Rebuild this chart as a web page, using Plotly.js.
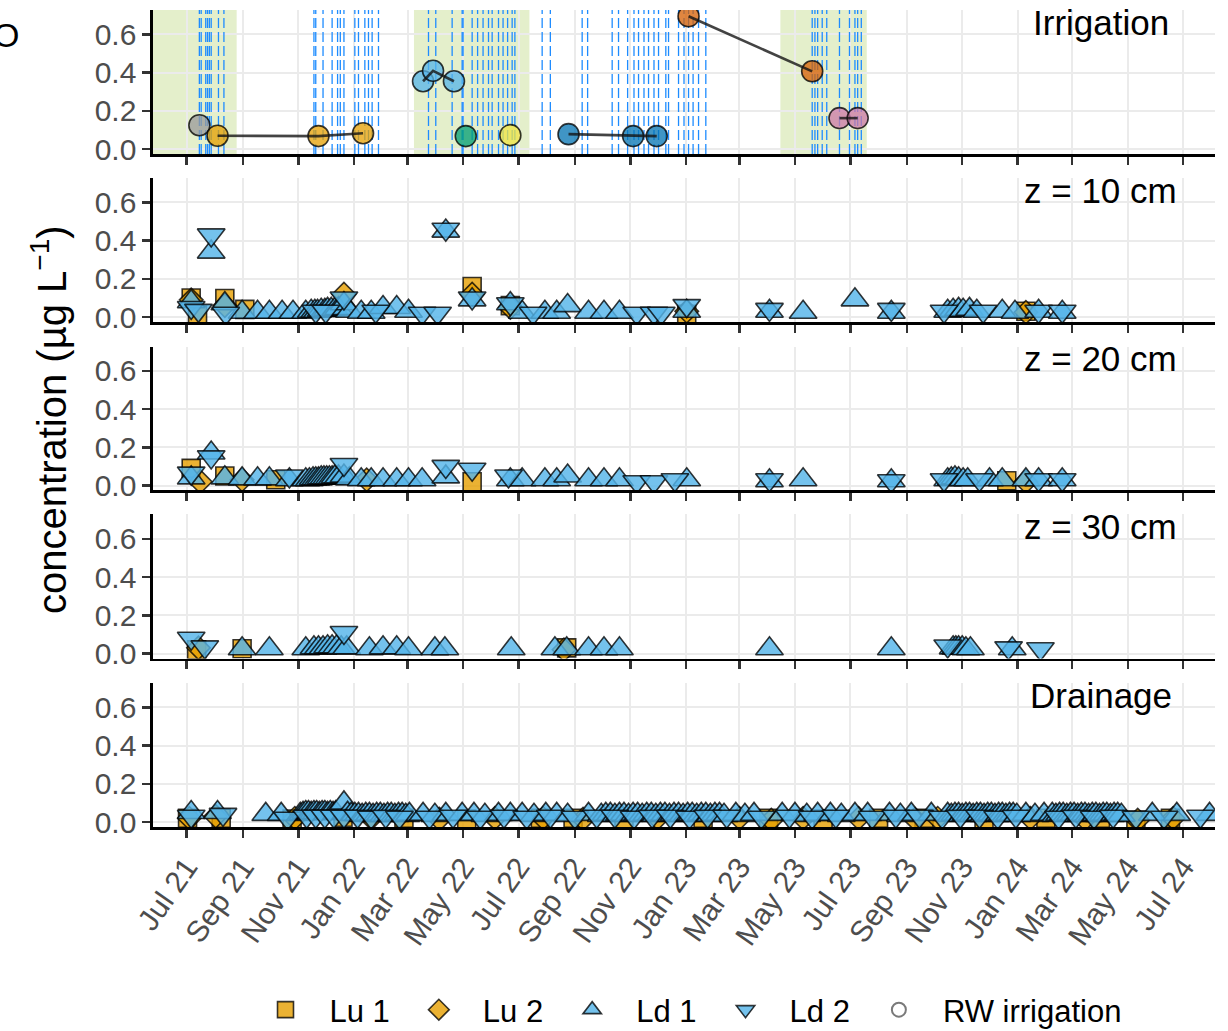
<!DOCTYPE html>
<html><head><meta charset="utf-8">
<script src="https://cdn.plot.ly/plotly-3.0.1.min.js"></script>
<style>html,body{margin:0;padding:0;background:#fff}#chart{width:1228px;height:1031px}</style>
</head><body><div id="chart"></div>
<script>
// ---------------- DATA ----------------
const panel_labels = ["Irrigation", "z = 10 cm", "z = 20 cm", "z = 30 cm", "Drainage"];
const y_ticks = [0, 0.2, 0.4, 0.6];
const y_ticktext = ["0.0", "0.2", "0.4", "0.6"];
const series_names = ["Lu 1", "Lu 2", "Ld 1", "Ld 2"];

// irrigation seasons (shaded) and irrigation events (dashed lines)
const season_start = ["2021-05-25", "2022-03-08", "2023-04-15"];
const season_end   = ["2021-08-25", "2022-07-13", "2023-07-19"];
const irr_events = ["2021-07-15","2021-07-17","2021-07-22","2021-07-24","2021-07-26","2021-07-28","2021-08-05","2021-08-11",
  "2021-11-18","2021-11-20","2021-11-28","2021-12-08","2021-12-14","2021-12-17","2021-12-21","2022-01-02","2022-01-06","2022-01-13","2022-01-17","2022-01-21","2022-01-28",
  "2022-03-24","2022-04-01","2022-04-19","2022-04-30","2022-05-01","2022-05-11","2022-05-17","2022-05-23","2022-05-29","2022-06-02","2022-06-09","2022-06-14","2022-06-19","2022-06-24","2022-06-27",
  "2022-07-27","2022-08-05","2022-09-09","2022-09-15",
  "2022-10-12","2022-10-19","2022-10-29","2022-11-05","2022-11-10","2022-11-16","2022-11-21","2022-11-27","2022-12-02","2022-12-10","2022-12-13","2022-12-24","2022-12-30","2023-01-04","2023-01-09","2023-01-15","2023-01-23",
  "2023-05-20","2023-05-23","2023-05-26","2023-05-31","2023-06-05","2023-06-19","2023-06-30","2023-07-06","2023-07-09","2023-07-13"];

// RW irrigation concentrations
const irr_grey_dates = ["2021-07-15"];                              const irr_grey_vals = [0.125];
const irr_gold_dates = ["2021-08-04","2021-11-23","2022-01-11"];    const irr_gold_vals = [0.07, 0.068, 0.083];
const irr_ltblue_dates = ["2022-03-18","2022-03-29","2022-04-21"];  const irr_ltblue_vals = [0.355, 0.41, 0.355];
const irr_green_dates = ["2022-05-04"];                             const irr_green_vals = [0.068];
const irr_yellow_dates = ["2022-06-22"];                            const irr_yellow_vals = [0.073];
const irr_dkblue_dates = ["2022-08-25","2022-11-04","2022-11-30"];  const irr_dkblue_vals = [0.078, 0.068, 0.068];
const irr_orange_dates = ["2023-01-04","2023-05-20"];               const irr_orange_vals = [0.695, 0.407];
const irr_pink_dates = ["2023-06-19","2023-07-09"];                 const irr_pink_vals = [0.162, 0.162];

// z = 10 cm
const z10_lu1_dates = ["2021-07-06","2021-07-13","2021-08-12","2021-09-03","2022-05-11","2022-06-22","2023-01-02","2024-01-10"];
const z10_lu1_vals  = [0.10,0.01,0.097,0.04,0.16,0.06,0.015,0.03];
const z10_lu2_dates = ["2021-07-06","2021-08-12","2021-12-21","2022-05-11","2022-06-22","2023-01-02","2024-01-10"];
const z10_lu2_vals  = [0.09,0.06,0.12,0.12,0.05,0.03,0.025];
const z10_ld1_dates = ["2021-07-06","2021-07-28","2021-08-12","2021-08-31","2021-09-17","2021-09-30","2021-10-14","2021-10-26","2021-11-09","2021-11-15","2021-11-19","2021-11-22","2021-11-26","2021-11-30","2021-12-03","2021-12-07","2021-12-11","2021-12-15","2021-12-21","2021-12-27","2022-01-09","2022-01-20","2022-02-02","2022-02-17","2022-03-02","2022-04-12","2022-05-11","2022-06-22","2022-07-05","2022-07-30","2022-08-12","2022-08-24","2022-09-16","2022-10-03","2022-10-20","2023-01-02","2023-04-03","2023-05-10","2023-07-06","2023-08-15","2023-10-16","2023-10-22","2023-10-28","2023-11-02","2023-11-09","2023-11-17","2023-12-15","2023-12-29","2024-01-24","2024-02-19"];
const z10_ld1_vals  = [0.08,0.34,0.07,0.025,0.025,0.025,0.025,0.025,0.025,0.03,0.03,0.03,0.035,0.035,0.04,0.04,0.04,0.045,0.07,0.03,0.025,0.025,0.05,0.05,0.03,0.45,0.09,0.07,0.025,0.025,0.025,0.06,0.025,0.025,0.025,0.03,0.03,0.025,0.09,0.025,0.03,0.035,0.04,0.035,0.04,0.03,0.03,0.025,0.03,0.025];
const z10_ld2_dates = ["2021-07-06","2021-07-14","2021-07-28","2021-08-13","2021-11-20","2021-12-01","2021-12-21","2022-01-25","2022-03-17","2022-04-03","2022-04-12","2022-05-11","2022-06-22","2022-07-17","2022-11-08","2022-11-27","2022-12-05","2023-01-02","2023-04-03","2023-08-15","2023-10-12","2023-11-24","2024-01-24","2024-02-19"];
const z10_ld2_vals  = [0.05,0.035,0.43,0.02,0.03,0.03,0.10,0.03,0.02,0.02,0.46,0.10,0.07,0.02,0.02,0.02,0.02,0.06,0.04,0.04,0.03,0.03,0.03,0.03];

// z = 20 cm
const z20_lu1_dates = ["2021-07-06","2021-08-12","2021-10-07","2022-05-11","2023-12-20"];
const z20_lu1_vals  = [0.09,0.05,0.03,0.02,0.025];
const z20_lu2_dates = ["2021-07-16","2021-08-31","2022-01-15","2024-01-10"];
const z20_lu2_vals  = [0.02,0.03,0.03,0.02];
const z20_ld1_dates = ["2021-07-06","2021-07-28","2021-08-12","2021-08-31","2021-09-17","2021-09-30","2021-10-22","2021-11-09","2021-11-13","2021-11-17","2021-11-20","2021-11-23","2021-11-26","2021-11-29","2021-12-02","2021-12-05","2021-12-08","2021-12-11","2021-12-15","2021-12-21","2021-12-27","2022-01-09","2022-01-20","2022-02-02","2022-02-17","2022-03-02","2022-03-17","2022-04-12","2022-06-22","2022-07-05","2022-07-30","2022-08-12","2022-08-24","2022-09-16","2022-10-03","2022-10-20","2023-01-02","2023-04-03","2023-05-10","2023-08-15","2023-10-16","2023-10-20","2023-10-24","2023-10-28","2023-11-02","2023-11-07","2023-12-01","2023-12-15","2024-01-10","2024-01-24","2024-02-19"];
const z20_ld1_vals  = [0.04,0.17,0.04,0.035,0.035,0.035,0.03,0.03,0.03,0.035,0.035,0.035,0.04,0.04,0.04,0.04,0.04,0.045,0.045,0.05,0.035,0.03,0.03,0.03,0.03,0.03,0.03,0.045,0.03,0.03,0.03,0.03,0.05,0.03,0.03,0.03,0.03,0.025,0.03,0.025,0.03,0.035,0.04,0.035,0.03,0.03,0.03,0.03,0.03,0.03,0.03];
const z20_ld2_dates = ["2021-07-06","2021-07-28","2021-10-22","2021-12-21","2022-04-12","2022-05-11","2022-06-20","2022-11-08","2022-11-27","2022-12-20","2023-04-03","2023-08-15","2023-10-12","2023-11-20","2024-01-24","2024-02-19"];
const z20_ld2_vals  = [0.065,0.15,0.05,0.11,0.10,0.085,0.05,0.02,0.02,0.03,0.03,0.025,0.03,0.03,0.03,0.03];

// z = 30 cm
const z30_lu1_dates = ["2021-07-12","2021-08-31","2022-08-23"];
const z30_lu1_vals  = [0.02,0.025,0.03];
const z30_lu2_dates = ["2021-07-14","2022-08-20"];
const z30_lu2_vals  = [0.03,0.02];
const z30_ld1_dates = ["2021-08-31","2021-09-30","2021-11-09","2021-11-18","2021-11-23","2021-11-28","2021-12-03","2021-12-08","2021-12-13","2021-12-18","2021-12-24","2022-01-18","2022-02-02","2022-02-17","2022-03-02","2022-03-31","2022-04-11","2022-06-23","2022-08-10","2022-08-23","2022-09-16","2022-10-03","2022-10-20","2023-04-03","2023-08-15","2023-10-22","2023-10-25","2023-10-28","2023-11-01","2023-11-05","2023-11-10","2023-12-26"];
const z30_ld1_vals  = [0.025,0.025,0.025,0.03,0.03,0.03,0.035,0.035,0.035,0.03,0.03,0.025,0.03,0.03,0.025,0.025,0.025,0.025,0.025,0.025,0.025,0.025,0.025,0.025,0.025,0.03,0.03,0.03,0.03,0.025,0.025,0.025];
const z30_ld2_dates = ["2021-07-06","2021-07-21","2021-12-21","2023-10-16","2023-12-22","2024-01-26"];
const z30_ld2_vals  = [0.08,0.035,0.11,0.04,0.03,0.025];

// Drainage
const dr_lu1_dates = ["2021-07-02","2021-08-08","2021-10-25","2021-12-20","2022-02-25","2022-05-05","2022-07-25","2022-08-30","2022-10-25","2023-01-20","2023-04-02","2023-06-01","2023-08-01","2023-09-20","2023-11-25","2024-02-01","2024-04-01","2024-05-10","2024-06-17"];
const dr_lu1_vals  = [0.02,0.02,0.015,0.025,0.02,0.015,0.02,0.02,0.015,0.02,0.02,0.015,0.02,0.02,0.015,0.02,0.02,0.01,0.02];
const dr_lu2_dates = ["2021-07-04","2021-08-02","2021-10-28","2022-01-20","2022-04-05","2022-06-05","2022-07-28","2022-09-10","2022-12-01","2023-03-01","2023-04-05","2023-05-10","2023-07-10","2023-09-10","2023-10-05","2024-01-15","2024-03-15","2024-05-12","2024-06-20"];
const dr_lu2_vals  = [0.02,0.03,0.02,0.02,0.015,0.02,0.02,0.015,0.02,0.02,0.01,0.02,0.02,0.015,0.02,0.02,0.015,0.01,0.02];
const dr_ld1_dates = ["2021-07-06","2021-08-04","2021-09-26","2021-10-13",
  "2021-11-03","2021-11-06","2021-11-09","2021-11-12","2021-11-15","2021-11-18","2021-11-21","2021-11-24","2021-11-27","2021-11-30","2021-12-03","2021-12-06","2021-12-09","2021-12-12",
  "2021-12-21",
  "2021-12-25","2021-12-29","2022-01-02","2022-01-06","2022-01-10","2022-01-14","2022-01-18","2022-01-22","2022-01-26","2022-01-30","2022-02-03","2022-02-07","2022-02-11","2022-02-15","2022-02-19","2022-02-23","2022-02-27","2022-03-03",
  "2022-03-18","2022-03-31","2022-04-12","2022-04-30","2022-05-13","2022-05-25","2022-06-09","2022-06-22","2022-07-05","2022-07-18","2022-07-31","2022-08-12","2022-08-24","2022-09-16",
  "2022-09-30","2022-10-05","2022-10-10","2022-10-15","2022-10-20","2022-10-25","2022-10-30","2022-11-04","2022-11-09","2022-11-14","2022-11-19","2022-11-24","2022-11-29","2022-12-04","2022-12-09","2022-12-14","2022-12-19","2022-12-24","2022-12-29","2023-01-03","2023-01-08","2023-01-13","2023-01-18","2023-01-23","2023-01-28","2023-02-02","2023-02-07","2023-02-12",
  "2023-02-25","2023-03-07","2023-03-17","2023-04-17","2023-05-01","2023-05-14","2023-05-26","2023-06-09","2023-06-21","2023-07-06","2023-07-20","2023-08-13","2023-08-25","2023-09-06","2023-09-28",
  "2023-10-16","2023-10-20","2023-10-24","2023-10-28","2023-11-01","2023-11-05","2023-11-09","2023-11-13","2023-11-17","2023-11-21","2023-11-25","2023-11-29","2023-12-03","2023-12-07","2023-12-11","2023-12-15","2023-12-19","2023-12-23","2023-12-27","2023-12-31",
  "2024-01-10","2024-01-20","2024-01-30",
  "2024-02-08","2024-02-12","2024-02-16","2024-02-20","2024-02-24","2024-02-28","2024-03-03","2024-03-07","2024-03-11","2024-03-15","2024-03-19","2024-03-23","2024-03-27","2024-03-31","2024-04-04","2024-04-08","2024-04-12","2024-04-16","2024-04-20","2024-04-24",
  "2024-05-28","2024-06-24","2024-07-30"];
const dr_ld1_vals = [0.05,0.05,0.04,0.04,
  0.04,0.045,0.05,0.05,0.045,0.05,0.05,0.045,0.05,0.05,0.045,0.05,0.045,0.05,
  0.10,
  0.045,0.04,0.04,0.04,0.035,0.04,0.04,0.035,0.04,0.04,0.035,0.04,0.04,0.035,0.04,0.04,0.035,0.04,
  0.04,0.035,0.04,0.04,0.04,0.035,0.04,0.04,0.04,0.035,0.04,0.04,0.035,0.04,
  0.035,0.04,0.04,0.035,0.04,0.04,0.035,0.04,0.04,0.035,0.04,0.04,0.035,0.04,0.04,0.035,0.04,0.04,0.035,0.04,0.04,0.035,0.04,0.04,0.035,0.04,0.04,0.035,
  0.04,0.035,0.04,0.04,0.04,0.035,0.04,0.04,0.035,0.04,0.04,0.04,0.035,0.04,0.04,
  0.04,0.035,0.04,0.04,0.035,0.04,0.04,0.035,0.04,0.04,0.035,0.04,0.04,0.035,0.04,0.04,0.035,0.04,0.04,0.035,
  0.04,0.035,0.04,
  0.04,0.035,0.04,0.04,0.035,0.04,0.04,0.035,0.04,0.04,0.035,0.04,0.04,0.035,0.04,0.04,0.035,0.04,0.04,0.035,
  0.04,0.04,0.04];
const dr_ld2_dates = ["2021-07-06","2021-08-10","2021-10-20","2021-11-10","2021-11-20","2021-11-30","2021-12-10","2021-12-21","2022-01-05","2022-01-20","2022-02-05","2022-02-20","2022-03-25","2022-04-20","2022-05-20","2022-06-15","2022-07-10","2022-08-05","2022-09-01","2022-09-25","2022-10-15","2022-11-05","2022-11-25","2022-12-15","2023-01-05","2023-01-25","2023-02-15","2023-03-25","2023-04-25","2023-05-20","2023-06-15","2023-07-25","2023-08-20","2023-09-15","2023-10-10","2023-10-30","2023-11-20","2023-12-10","2023-12-30","2024-02-15","2024-03-05","2024-03-25","2024-04-15","2024-05-10","2024-06-10","2024-07-20"];
const dr_ld2_vals  = [0.03,0.04,0.02,0.03,0.03,0.03,0.03,0.03,0.03,0.025,0.03,0.025,0.025,0.03,0.025,0.03,0.025,0.03,0.025,0.03,0.03,0.025,0.03,0.03,0.025,0.03,0.03,0.025,0.03,0.025,0.03,0.025,0.03,0.03,0.025,0.03,0.03,0.025,0.03,0.025,0.03,0.025,0.03,0.025,0.025,0.03];

// ---------------- BUILD ----------------
const FONT = "Liberation Sans, Arial, Helvetica, sans-serif";
const X_RANGE = ["2021-05-25", "2024-08-05"];
const Y_RANGE = [-0.026, 0.728];
const domains = [[0.8237,1],[0.6181,0.7944],[0.4119,0.5881],[0.2062,0.3825],[0,0.1763]];
const sfx = i => (i === 1 ? "" : String(i));

const traces = [];
const edge = {color: "rgba(0,0,0,0.78)", width: 1.6};

// dashed irrigation-event lines (top panel), drawn through the axes' scales
const evX = [], evY = [];
irr_events.forEach(d => { evX.push(d, d, null); evY.push(Y_RANGE[0], Y_RANGE[1], null); });
traces.push({type: "scatter", mode: "lines", x: evX, y: evY, xaxis: "x", yaxis: "y", showlegend: false,
  hoverinfo: "skip", line: {color: "#1e8cff", width: 1.3, dash: "10px,4px"}});

const irrGroups = [
  {d: irr_grey_dates,   v: irr_grey_vals,   c: "rgba(153,153,153,0.75)"},
  {d: irr_gold_dates,   v: irr_gold_vals,   c: "rgba(230,159,0,0.75)"},
  {d: irr_ltblue_dates, v: irr_ltblue_vals, c: "rgba(86,180,233,0.75)"},
  {d: irr_green_dates,  v: irr_green_vals,  c: "rgba(0,158,115,0.75)"},
  {d: irr_yellow_dates, v: irr_yellow_vals, c: "rgba(240,228,66,0.75)"},
  {d: irr_dkblue_dates, v: irr_dkblue_vals, c: "rgba(0,114,178,0.75)"},
  {d: irr_orange_dates, v: irr_orange_vals, c: "rgba(213,94,0,0.75)"},
  {d: irr_pink_dates,   v: irr_pink_vals,   c: "rgba(204,121,167,0.75)"}
];
irrGroups.forEach(g => {
  traces.push({type: "scatter", mode: "markers", x: g.d, y: g.v, xaxis: "x", yaxis: "y", showlegend: false,
    hoverinfo: "x+y", marker: {symbol: "circle", size: 21, color: g.c, line: edge}});
});
irrGroups.forEach(g => {
  if (g.d.length > 1) traces.push({type: "scatter", mode: "lines", x: g.d, y: g.v, xaxis: "x", yaxis: "y",
    showlegend: false, hoverinfo: "skip", line: {color: "rgba(20,20,20,0.8)", width: 2.6}});
});

const styles = [
  {sym: "square",        size: 18, fill: "rgba(230,159,0,0.8)"},
  {sym: "diamond",       size: 18, fill: "rgba(230,159,0,0.8)"},
  {sym: "triangle-up",   size: 24, fill: "rgba(86,180,233,0.82)"},
  {sym: "triangle-down", size: 24, fill: "rgba(86,180,233,0.82)"}
];
const depthData = [
  [[z10_lu1_dates, z10_lu1_vals], [z10_lu2_dates, z10_lu2_vals], [z10_ld1_dates, z10_ld1_vals], [z10_ld2_dates, z10_ld2_vals]],
  [[z20_lu1_dates, z20_lu1_vals], [z20_lu2_dates, z20_lu2_vals], [z20_ld1_dates, z20_ld1_vals], [z20_ld2_dates, z20_ld2_vals]],
  [[z30_lu1_dates, z30_lu1_vals], [z30_lu2_dates, z30_lu2_vals], [z30_ld1_dates, z30_ld1_vals], [z30_ld2_dates, z30_ld2_vals]],
  [[dr_lu1_dates, dr_lu1_vals],   [dr_lu2_dates, dr_lu2_vals],   [dr_ld1_dates, dr_ld1_vals],   [dr_ld2_dates, dr_ld2_vals]]
];
depthData.forEach((panel, pi) => {
  const p = pi + 2;
  panel.forEach((s, si) => {
    const st = styles[si];
    traces.push({type: "scatter", mode: "markers", x: s[0], y: s[1], xaxis: "x" + p, yaxis: "y" + p,
      name: series_names[si], legendgroup: series_names[si], showlegend: pi === 0,
      marker: {symbol: st.sym, size: st.size, color: st.fill, line: edge}});
  });
});
// legend-only entry for irrigation water
traces.push({type: "scatter", mode: "markers", x: [null], y: [null], xaxis: "x", yaxis: "y",
  name: "RW irrigation", showlegend: true,
  marker: {symbol: "circle-open", size: 14, color: "#7a7a7a", line: {width: 2, color: "#7a7a7a"}}});

const layout = {
  width: 1228, height: 1031,
  margin: {l: 153, r: 13, t: 10, b: 204, autoexpand: false},
  paper_bgcolor: "#ffffff", plot_bgcolor: "rgba(0,0,0,0)",
  font: {family: FONT, color: "#000"},
  showlegend: true,
  legend: {orientation: "h", x: 0.5, xanchor: "center", y: -0.224, yanchor: "middle",
    font: {size: 31, family: FONT, color: "#000"}, itemwidth: 78, traceorder: "normal"},
  shapes: [], annotations: []
};
for (let i = 1; i <= 5; i++) {
  layout["xaxis" + sfx(i)] = {
    type: "date", range: X_RANGE, anchor: "y" + sfx(i), tick0: "2021-07-01", dtick: "M2", tickformat: "%b %y",
    showgrid: true, gridcolor: "#ebebeb", gridwidth: 2, zeroline: false,
    showline: true, linecolor: "#000", linewidth: 2.6, ticks: "outside", ticklen: 8, tickwidth: 2.4, tickcolor: "#333",
    showticklabels: i === 5, tickangle: -55, tickfont: {size: 30, color: "#4d4d4d", family: FONT}
  };
  layout["yaxis" + sfx(i)] = {
    domain: domains[i - 1], anchor: "x" + sfx(i), range: Y_RANGE,
    tickvals: y_ticks, ticktext: y_ticktext,
    showgrid: true, gridcolor: "#ebebeb", gridwidth: 2, zeroline: false,
    showline: true, linecolor: "#000", linewidth: 2.6, ticks: "outside", ticklen: 8, tickwidth: 2.4, tickcolor: "#333",
    tickfont: {size: 30, color: "#4d4d4d", family: FONT}
  };
  layout.annotations.push({text: panel_labels[i - 1], xref: "paper", yref: "y" + sfx(i) + " domain",
    x: 0.8925, y: 0.916, xanchor: "center", yanchor: "middle", showarrow: false,
    font: {size: 35, color: "#000", family: FONT}});
}
season_start.forEach((s, k) => {
  layout.shapes.push({type: "rect", xref: "x", yref: "y domain", x0: s, x1: season_end[k], y0: 0, y1: 1,
    fillcolor: "#e4efcb", line: {width: 0}, layer: "below"});
});
layout.annotations.push({text: "concentration (µg L<sup>−1</sup>)", xref: "paper", yref: "paper",
  x: -0.098, y: 0.4994, xanchor: "center", yanchor: "middle", textangle: -90, showarrow: false,
  font: {size: 40, color: "#000", family: FONT}});
layout.annotations.push({text: "O", xref: "paper", yref: "paper", x: -0.1384, y: 0.969,
  xanchor: "center", yanchor: "middle", showarrow: false, font: {size: 34, color: "#000", family: FONT}});

Plotly.newPlot("chart", traces, layout, {staticPlot: true, displayModeBar: false});
</script>
</body></html>
